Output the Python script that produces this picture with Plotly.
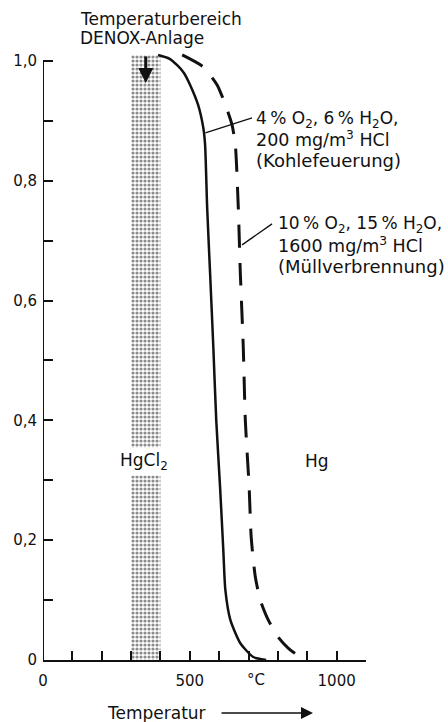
import plotly.graph_objects as go

# ---------------- data ----------------
T_solid = [392, 430, 457, 480, 501, 528, 546, 552, 559, 569, 580, 590, 603, 614, 621, 638, 672, 716, 760]
y_solid = [1.01, 1.004, 0.993, 0.98, 0.96, 0.927, 0.888, 0.86, 0.756, 0.646, 0.523, 0.40, 0.289, 0.184, 0.117, 0.067, 0.028, 0.005, 0.0]

T_dash = [474, 546, 593, 621, 644, 655, 665, 672, 682, 689, 702, 709, 723, 740, 767, 801, 835, 876, 900]
y_dash = [1.01, 0.99, 0.96, 0.927, 0.893, 0.86, 0.756, 0.646, 0.523, 0.40, 0.289, 0.205, 0.139, 0.10, 0.067, 0.038, 0.02, 0.005, 0.0]

denox_range = [300, 400]          # °C, shaded band
band_top = 1.01

x_tickvals = [0, 100, 200, 300, 400, 500, 600, 700, 800, 900, 1000]
x_ticktext = ["0", "", "", "", "", "500", "", "", "", "", "1000"]
y_tickvals = [0, 0.1, 0.2, 0.3, 0.4, 0.5, 0.6, 0.7, 0.8, 0.9, 1.0]
y_ticktext = ["0", "", "0,2", "", "0,4", "", "0,6", "", "0,8", "", "1,0"]

label_solid = ["4\u2009% O<sub>2</sub>, 6\u2009% H<sub>2</sub>O,", "200 mg/m<sup>3</sup> HCl", "(Kohlefeuerung)"]
label_dash = ["10\u2009% O<sub>2</sub>, 15\u2009% H<sub>2</sub>O,", "1600 mg/m<sup>3</sup> HCl", "(Müllverbrennung)"]

# ---------------- layout geometry ----------------
W, H = 448, 722
L, R, T, B = 43, 82, 31, 62
PW, PH = W - L - R, H - T - B
X_MAX, Y_MAX = 1100, 1.05

def px(xp):
    return (xp - L) / PW

def py(yp):
    return (H - B - yp) / PH

INK = "#111111"
FONT = "DejaVu Sans"

fig = go.Figure()

# stippled DENOX band
fig.add_trace(go.Scatter(
    x=[denox_range[0], denox_range[1], denox_range[1], denox_range[0], denox_range[0]],
    y=[0, 0, band_top, band_top, 0],
    mode="lines", line=dict(width=0), fill="toself",
    fillcolor="rgba(0,0,0,0)",
    fillpattern=dict(shape=".", size=4, solidity=0.5, fgcolor="#1a1a1a", bgcolor="white"),
    hoverinfo="skip", showlegend=False,
))

# curves
fig.add_trace(go.Scatter(x=T_solid, y=y_solid, mode="lines",
                         line=dict(color=INK, width=2.5, shape="spline", smoothing=0.6),
                         showlegend=False))
fig.add_trace(go.Scatter(x=T_dash, y=y_dash, mode="lines",
                         line=dict(color=INK, width=3, dash="23px,15px", shape="spline", smoothing=0.6),
                         showlegend=False))

# y axis line (only up to 1.0)
fig.add_shape(type="line", x0=0, x1=0, y0=0, y1=1.0, xref="x", yref="y",
              line=dict(color=INK, width=2))

# leader lines
fig.add_shape(type="line", x0=553, y0=0.88, x1=712, y1=0.905, xref="x", yref="y",
              line=dict(color=INK, width=1.3))
fig.add_shape(type="line", x0=678, y0=0.693, x1=780, y1=0.728, xref="x", yref="y",
              line=dict(color=INK, width=1.3))

ann = []
def text(s, x, y, size, xanchor="left", bg=None):
    d = dict(text=s, x=px(x), y=py(y), xref="paper", yref="paper", showarrow=False,
             xanchor=xanchor, yanchor="middle", font=dict(family=FONT, size=size, color=INK))
    if bg:
        d["bgcolor"] = bg
        d["borderpad"] = 2
    ann.append(d)

text("Temperaturbereich", 78, 19, 17)
text("DENOX-Anlage", 78, 38, 17)
for i, (s, yy) in enumerate(zip(label_solid, [120, 139, 160])):
    text(s, 254, yy, [17, 17.5, 18][i])
for i, (s, yy) in enumerate(zip(label_dash, [224, 245, 266])):
    text(s, 276, yy, [17, 17.5, 18][i])
text("HgCl<sub>2</sub>", 144, 461, 17, xanchor="center", bg="white")
text("Hg", 317, 461, 17, xanchor="center")
text("°C", 256, 680, 15, xanchor="center")
text("Temperatur", 105, 713, 17)

# arrow inside band
ann.append(dict(x=350, y=0.963, xref="x", yref="y", ax=350, ay=1.01, axref="x", ayref="y",
                showarrow=True, arrowhead=2, arrowsize=1.0, arrowwidth=3, arrowcolor=INK, text=""))
# arrow after "Temperatur"
ann.append(dict(x=px(313), y=py(713), xref="paper", yref="paper", ax=-93, ay=0,
                showarrow=True, arrowhead=2, arrowsize=1.6, arrowwidth=1.5, arrowcolor=INK, text=""))

fig.update_layout(
    width=W, height=H,
    margin=dict(l=L, r=R, t=T, b=B, pad=0),
    paper_bgcolor="white", plot_bgcolor="white",
    annotations=ann,
    xaxis=dict(range=[0, X_MAX], showgrid=False, zeroline=False, showline=True,
               linecolor=INK, linewidth=2, ticks="inside", ticklen=9, tickwidth=1.5,
               tickcolor=INK, tickvals=x_tickvals, ticktext=x_ticktext, ticklabelstandoff=6,
               tickfont=dict(family=FONT, size=15, color=INK), fixedrange=True),
    yaxis=dict(range=[0, Y_MAX], showgrid=False, zeroline=False, showline=False,
               ticks="inside", ticklen=10, tickwidth=1.5, tickcolor=INK,
               tickvals=y_tickvals, ticktext=y_ticktext, ticklabelstandoff=5,
               tickfont=dict(family=FONT, size=15, color=INK), fixedrange=True),
)

fig.write_html("out.html", config={"displayModeBar": False},
               post_script="document.body.style.margin='0';document.body.style.overflow='hidden';")
